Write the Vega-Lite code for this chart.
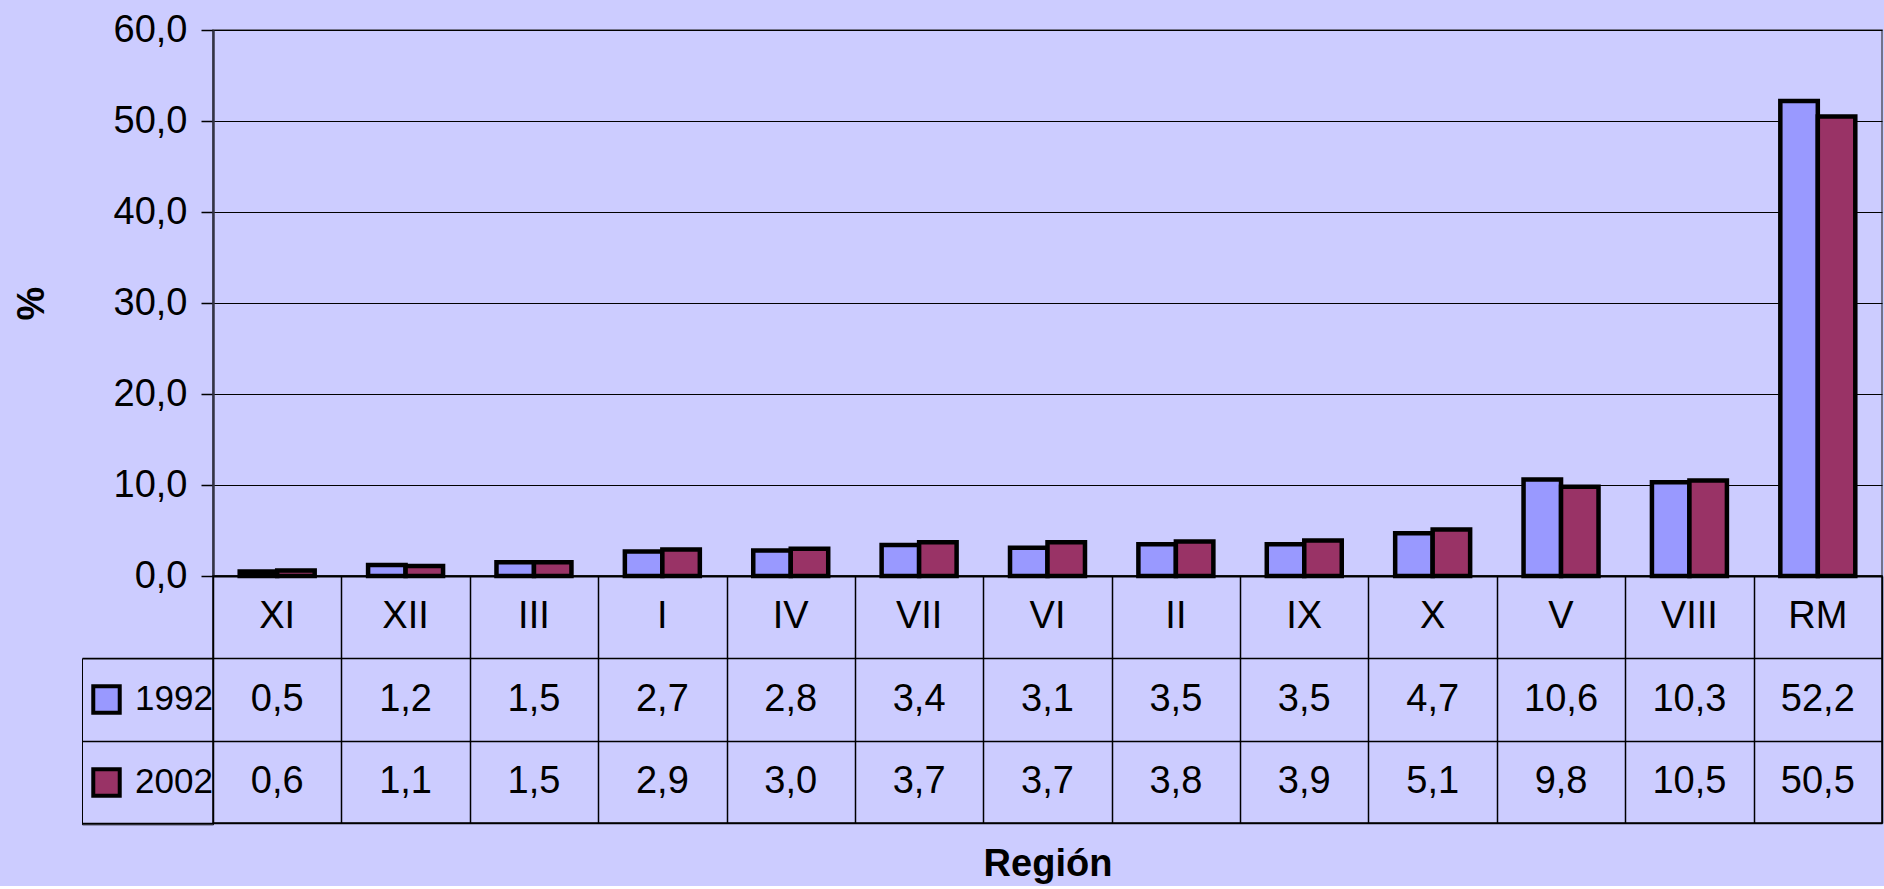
{
  "$schema": "https://vega.github.io/schema/vega-lite/v6.json",
  "background": "#CCCCFF",
  "padding": {"left": 12, "top": 10, "right": 2, "bottom": 2},
  "spacing": 0,
  "bounds": "flush",
  "config": {
    "locale": {"number": {"decimal": ",", "thousands": ".", "grouping": [3], "currency": ["", " €"]}},
    "font": "Liberation Sans",
    "view": {"stroke": null}
  },
  "data": {
    "values": [
      {"region": "XI", "year": "1992", "value": 0.5},
      {"region": "XII", "year": "1992", "value": 1.2},
      {"region": "III", "year": "1992", "value": 1.5},
      {"region": "I", "year": "1992", "value": 2.7},
      {"region": "IV", "year": "1992", "value": 2.8},
      {"region": "VII", "year": "1992", "value": 3.4},
      {"region": "VI", "year": "1992", "value": 3.1},
      {"region": "II", "year": "1992", "value": 3.5},
      {"region": "IX", "year": "1992", "value": 3.5},
      {"region": "X", "year": "1992", "value": 4.7},
      {"region": "V", "year": "1992", "value": 10.6},
      {"region": "VIII", "year": "1992", "value": 10.3},
      {"region": "RM", "year": "1992", "value": 52.2},
      {"region": "XI", "year": "2002", "value": 0.6},
      {"region": "XII", "year": "2002", "value": 1.1},
      {"region": "III", "year": "2002", "value": 1.5},
      {"region": "I", "year": "2002", "value": 2.9},
      {"region": "IV", "year": "2002", "value": 3.0},
      {"region": "VII", "year": "2002", "value": 3.7},
      {"region": "VI", "year": "2002", "value": 3.7},
      {"region": "II", "year": "2002", "value": 3.8},
      {"region": "IX", "year": "2002", "value": 3.9},
      {"region": "X", "year": "2002", "value": 5.1},
      {"region": "V", "year": "2002", "value": 9.8},
      {"region": "VIII", "year": "2002", "value": 10.5},
      {"region": "RM", "year": "2002", "value": 50.5}
    ]
  },
  "resolve": {"legend": {"color": "independent"}},
  "vconcat": [
    {
      "width": 1669,
      "height": 546,
      "view": {"stroke": "#555566", "strokeWidth": 1.5},
      "mark": {"type": "bar", "stroke": "black", "strokeWidth": 4.5},
      "encoding": {
        "x": {
          "field": "region", "type": "nominal",
          "sort": ["XI", "XII", "III", "I", "IV", "VII", "VI", "II", "IX", "X", "V", "VIII", "RM"],
          "scale": {"paddingInner": 0.416, "paddingOuter": 0.208},
          "axis": {"labels": false, "ticks": false, "title": null, "domainColor": "black", "domainWidth": 2}
        },
        "xOffset": {"field": "year", "type": "nominal", "scale": {"paddingInner": 0, "paddingOuter": 0}},
        "y": {
          "field": "value", "type": "quantitative",
          "scale": {"domain": [0, 60], "nice": false},
          "axis": {
            "values": [0, 10, 20, 30, 40, 50, 60], "format": ".1f",
            "title": "%", "titleFontWeight": "bold", "titleFontSize": 38,
            "titleColor": "black", "titlePadding": 62,
            "labelFontSize": 38, "labelColor": "black", "labelPadding": 14,
            "tickSize": 12, "tickColor": "black", "tickWidth": 1.5,
            "domainColor": "#333344", "domainWidth": 2.5,
            "gridColor": "black", "gridWidth": 1.2
          }
        },
        "color": {
          "field": "year", "type": "nominal",
          "scale": {"domain": ["1992", "2002"], "range": ["#9999FF", "#993366"]},
          "legend": null
        }
      }
    },
    {
      "width": 1669,
      "height": 247,
      "view": {"stroke": "black", "strokeWidth": 1.5},
      "encoding": {
        "x": {
          "field": "region", "type": "nominal",
          "sort": ["XI", "XII", "III", "I", "IV", "VII", "VI", "II", "IX", "X", "V", "VIII", "RM"],
          "scale": {"paddingInner": 0, "paddingOuter": 0},
          "axis": {
            "orient": "bottom", "tickBand": "extent", "grid": true, "gridColor": "black", "gridWidth": 1.5,
            "domain": false, "ticks": false, "labels": false,
            "title": "Región", "titleFontSize": 38, "titleFontWeight": "bold", "titleColor": "black", "titlePadding": 22
          }
        }
      },
      "layer": [
        {
          "transform": [{"filter": "datum.year == '1992'"}],
          "mark": {"type": "text", "fontSize": 38, "color": "black", "baseline": "middle", "align": "center"},
          "encoding": {
            "y": {"datum": "cat", "type": "nominal", "scale": {"domain": ["cat", "1992", "2002"], "paddingInner": 0, "paddingOuter": 0},
              "axis": {
                "values": ["1992", "2002"], "tickBand": "extent", "labels": false, "domain": false,
                "ticks": true, "tickSize": 131, "tickColor": "black", "tickWidth": 1.5,
                "grid": true, "gridColor": "black", "gridWidth": 1.5, "title": null
              }
            },
            "text": {"field": "region"}
          }
        },
        {
          "mark": {"type": "text", "fontSize": 38, "color": "black", "baseline": "middle", "align": "center"},
          "encoding": {
            "y": {"field": "year", "type": "nominal"},
            "text": {"field": "value", "type": "quantitative", "format": ".1f"}
          }
        },
        {
          "transform": [{"filter": "datum.value < 0"}],
          "mark": {"type": "point", "shape": "square", "filled": true},
          "encoding": {
            "y": {"field": "year", "type": "nominal"},
            "color": {
              "field": "year", "type": "nominal",
              "scale": {"domain": ["1992", "2002"], "range": ["#9999FF", "#993366"]},
              "legend": {
                "orient": "none", "legendX": -131, "legendY": 82.3, "title": null,
                "symbolType": "square", "symbolSize": 700, "symbolStrokeColor": "black", "symbolStrokeWidth": 4,
                "symbolOpacity": 1, "symbolOffset": 7, "labelFontSize": 35, "labelColor": "black", "labelOffset": 11,
                "padding": 0, "rowPadding": 0, "clipHeight": 82.3, "strokeColor": "black"
              }
            }
          }
        }
      ]
    }
  ]
}
